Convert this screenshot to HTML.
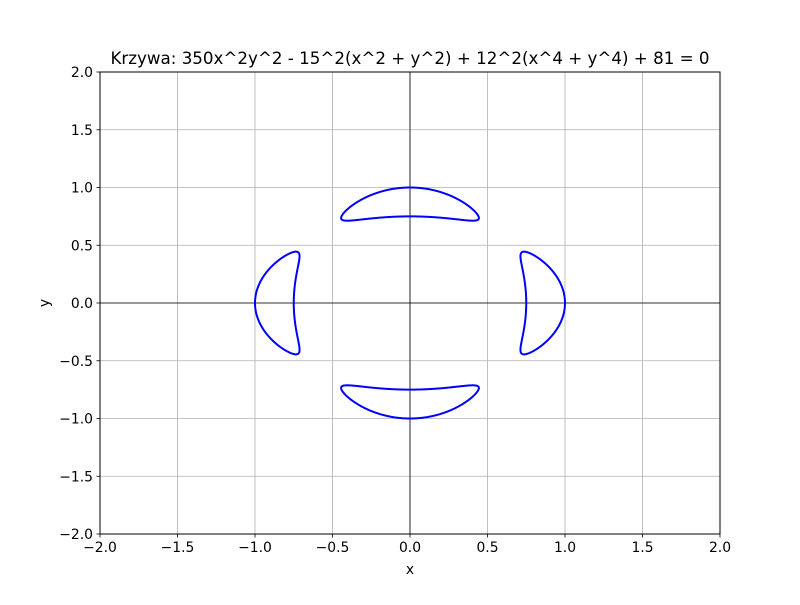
<!DOCTYPE html>
<html><head><meta charset="utf-8"><style>
body{margin:0;background:#fff}
svg text{font-family:"DejaVu Sans","Liberation Sans",sans-serif;fill:#000}
</style></head><body>
<svg id="chart" width="800" height="600" xmlns="http://www.w3.org/2000/svg">
<rect width="800" height="600" fill="#fff"/>
<g id="grid"></g>
<g id="ticks"></g>
<path id="curve" fill="none" stroke="#0000ff" stroke-width="2" stroke-linecap="round" stroke-linejoin="round"/>
<rect x="100" y="72" width="620" height="462" fill="none" stroke="#000" stroke-width="1"/>
<text x="410" y="64" font-size="16.7" text-anchor="middle">Krzywa: 350x^2y^2 - 15^2(x^2 + y^2) + 12^2(x^4 + y^4) + 81 = 0</text>
<text x="410" y="574" font-size="13.9" text-anchor="middle">x</text>
<text x="49" y="303" font-size="13.9" text-anchor="middle" transform="rotate(-90 49 303)">y</text>
</svg>
<script>
// curve: c0*x^2y^2 - c1^2(x^2+y^2) + c2^2(x^4+y^4) + c3 = 0
const coefA = [350];
const coefB = [15];
const coefC = [12];
const coefD = [81];
const xTicks = [-2,-1.5,-1,-0.5,0,0.5,1,1.5,2];
const yTicks = [-2,-1.5,-1,-0.5,0,0.5,1,1.5,2];
const xDomain = [-2,2], yDomain = [-2,2];
const L=100,R=720,T=72,B=534;
const sx=v=>L+(v-xDomain[0])/(xDomain[1]-xDomain[0])*(R-L);
const sy=v=>B-(v-yDomain[0])/(yDomain[1]-yDomain[0])*(B-T);
const NS='http://www.w3.org/2000/svg';
const grid=document.getElementById('grid'), tk=document.getElementById('ticks');
function mk(tag,attrs,parent){const e=document.createElementNS(NS,tag);for(const k in attrs)e.setAttribute(k,attrs[k]);parent.appendChild(e);return e;}
const fmt=v=>(v<0?'\u2212':'')+Math.abs(v).toFixed(1);
xTicks.forEach(v=>{
  const x=sx(v);
  const g=mk('line',{x1:x,x2:x,y1:T,y2:B,stroke:'#b0b0b0','stroke-width':0.8},grid);
  
  
  const t=mk('line',{x1:x,x2:x,y1:B,y2:B+3.5,stroke:'#000','stroke-width':0.8},tk);
  
  
  const l=mk('text',{x:x,y:B+18,'font-size':13.9,'text-anchor':'middle'},tk);
  l.textContent=fmt(v);
  
  
});
yTicks.forEach(v=>{
  const y=sy(v);
  const g=mk('line',{x1:L,x2:R,y1:y,y2:y,stroke:'#b0b0b0','stroke-width':0.8},grid);
  
  
  const t=mk('line',{x1:L-3.5,x2:L,y1:y,y2:y,stroke:'#000','stroke-width':0.8},tk);
  
  
  const l=mk('text',{x:L-7,y:y+5,'font-size':13.9,'text-anchor':'end'},tk);
  l.textContent=fmt(v);
  
  
});
const ax=mk('line',{x1:sx(0),x2:sx(0),y1:T,y2:B,stroke:'#000','stroke-width':0.8},grid);


const ay=mk('line',{x1:L,x2:R,y1:sy(0),y2:sy(0),stroke:'#000','stroke-width':0.8},grid);


// marching squares
const f=(x,y)=>coefA[0]*x*x*y*y-coefB[0]*coefB[0]*(x*x+y*y)+coefC[0]*coefC[0]*(x**4+y**4)+coefD[0];
const N=500,lo=-1.2,hi=1.2,h=(hi-lo)/N;
const V=[];for(let i=0;i<=N;i++){V.push([]);for(let j=0;j<=N;j++)V[i].push(f(lo+i*h,lo+j*h));}
let d='';
function ip(x0,y0,v0,x1,y1,v1){const t=v0/(v0-v1);return [x0+(x1-x0)*t,y0+(y1-y0)*t];}
for(let i=0;i<N;i++)for(let j=0;j<N;j++){
  const x0=lo+i*h,y0=lo+j*h,x1=x0+h,y1=y0+h;
  const a=V[i][j],b=V[i+1][j],c=V[i+1][j+1],e=V[i][j+1];
  const pts=[];
  if((a<0)!=(b<0))pts.push(ip(x0,y0,a,x1,y0,b));
  if((b<0)!=(c<0))pts.push(ip(x1,y0,b,x1,y1,c));
  if((c<0)!=(e<0))pts.push(ip(x1,y1,c,x0,y1,e));
  if((e<0)!=(a<0))pts.push(ip(x0,y1,e,x0,y0,a));
  for(let k=0;k+1<pts.length;k+=2)
    d+=`M${sx(pts[k][0]).toFixed(2)} ${sy(pts[k][1]).toFixed(2)}L${sx(pts[k+1][0]).toFixed(2)} ${sy(pts[k+1][1]).toFixed(2)}`;
}
document.getElementById('curve').setAttribute('d',d);
</script>
</body></html>
